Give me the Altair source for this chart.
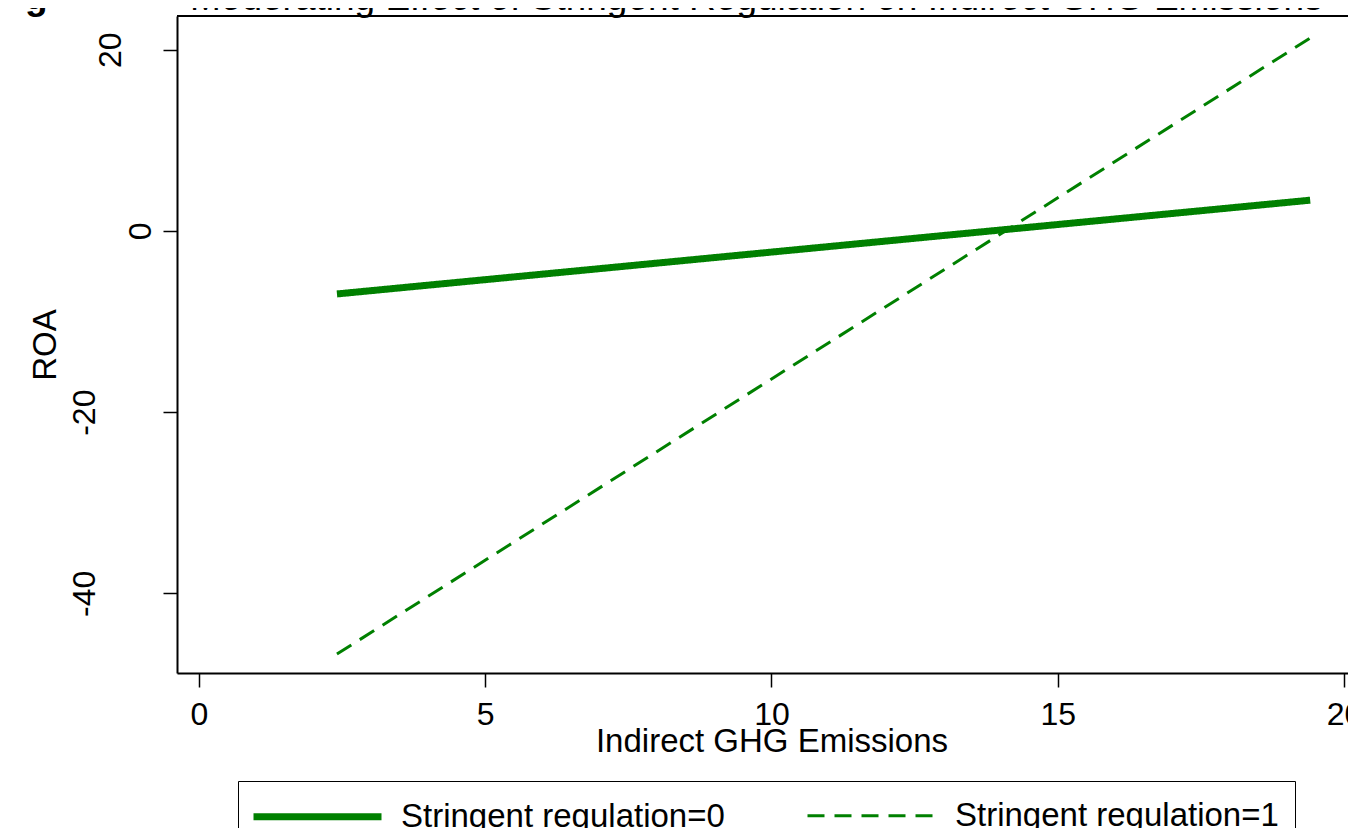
import altair as alt
import pandas as pd

# ---- data ----
groups = ["Stringent regulation=0", "Stringent regulation=1"]
x_ghg = [2.41, 19.41]
roa_reg0 = [-6.95, 3.40]
roa_reg1 = [-46.7, 21.3]
x_ticks = [0, 5, 10, 15, 20]
y_ticks = [-40, -20, 0, 20]
title_text = "Moderating Effect of Stringent Regulation on Indirect GHG Emissions"
corner_text = "g"

rows = []
for g, ys in zip(groups, [roa_reg0, roa_reg1]):
    for xv, yv in zip(x_ghg, ys):
        rows.append({"ghg": xv, "roa": yv, "group": g})
df = pd.DataFrame(rows)

PX_PER_X = 57.25
PLOT_W = 1171
X_DOM = [-0.384, -0.384 + PLOT_W / PX_PER_X]
Y_DOM = [-48.79, 23.73]
FONT = "Liberation Sans"
GREEN = "#008000"

legend = alt.Legend(
    title=None,
    orient="none",
    legendX=61,
    legendY=765,
    direction="horizontal",
    columns=2,
    strokeColor="black",
    padding=16,
    symbolType="M-1.25,0 L6.75,0",
    symbolSize=1024,
    symbolStrokeColor=GREEN,
    symbolFillColor="transparent",
    labelFont=FONT,
    labelFontSize=33,
    labelColor="black",
    labelOffset=108,
    columnPadding=76,
    labelLimit=600,
)

lines = alt.Chart(df).mark_line(color=GREEN, strokeCap="butt").encode(
    x=alt.X(
        "ghg:Q",
        scale=alt.Scale(domain=X_DOM, nice=False, zero=False),
        axis=alt.Axis(
            values=x_ticks,
            title="Indirect GHG Emissions",
            titleX=594.5,
            titleY=78,
            titleBaseline="alphabetic",
            titleAlign="center",
            titleFont=FONT,
            titleFontSize=33,
            titleFontWeight="normal",
            titleColor="black",
            labelFont=FONT,
            labelFontSize=32,
            labelColor="black",
            labelBaseline="alphabetic",
            labelPadding=37,
            labelFlush=False,
            labelOverlap=False,
            tickSize=14,
            tickWidth=1.5,
            tickColor="black",
            domainColor="black",
            domainWidth=2,
            grid=False,
        ),
    ),
    y=alt.Y(
        "roa:Q",
        scale=alt.Scale(domain=Y_DOM, nice=False, zero=False),
        axis=alt.Axis(
            values=y_ticks,
            labelExpr="'' + datum.value",
            title="ROA",
            titleX=-122,
            titleY=328.5,
            titleAngle=270,
            titleAlign="center",
            titleBaseline="alphabetic",
            titleFont=FONT,
            titleFontSize=33,
            titleFontWeight="normal",
            titleColor="black",
            labelFont=FONT,
            labelFontSize=32,
            labelColor="black",
            labelAngle=270,
            labelAlign="center",
            labelBaseline="alphabetic",
            labelPadding={
                "condition": [
                    {"test": "datum.value == 0", "value": 13},
                    {"test": "datum.value > 0", "value": 43},
                ],
                "value": 69,
            },
            labelOverlap=False,
            tickSize=14,
            tickWidth=1.5,
            tickColor="black",
            domainColor="black",
            domainWidth=2,
            grid=False,
        ),
    ),
    strokeDash=alt.StrokeDash(
        "group:N",
        scale=alt.Scale(domain=groups, range=[[1, 0], [17, 10]]),
        legend=legend,
    ),
    strokeWidth=alt.StrokeWidth(
        "group:N",
        scale=alt.Scale(domain=groups, range=[7, 3]),
        legend=legend,
    ),
    detail="group:N",
)

top_border = alt.Chart(pd.DataFrame({"top": [Y_DOM[1]]})).mark_rule(
    color="black", strokeWidth=2
).encode(y=alt.Y("top:Q"))

corner = alt.Chart(pd.DataFrame({"t": [corner_text]})).mark_text(
    font=FONT, fontSize=37, fontWeight="bold", align="left", baseline="alphabetic",
    color="black",
).encode(text="t:N", x=alt.value(-152), y=alt.value(-7))

title = alt.Chart(pd.DataFrame({"t": [title_text]})).mark_text(
    font=FONT, fontSize=37, align="left", baseline="alphabetic", color="black",
).encode(text="t:N", x=alt.value(13), y=alt.value(-6))

chart = (
    alt.layer(lines, top_border, corner, title)
    .properties(
        width=PLOT_W,
        height=657,
        padding={"left": 169, "top": 8, "right": 0, "bottom": 155},
        autosize=alt.AutoSizeParams(type="none"),
    )
    .configure_view(stroke=None)
    .configure(background="white")
)

chart.save("out.html", embed_options={"renderer": "svg", "actions": False})
